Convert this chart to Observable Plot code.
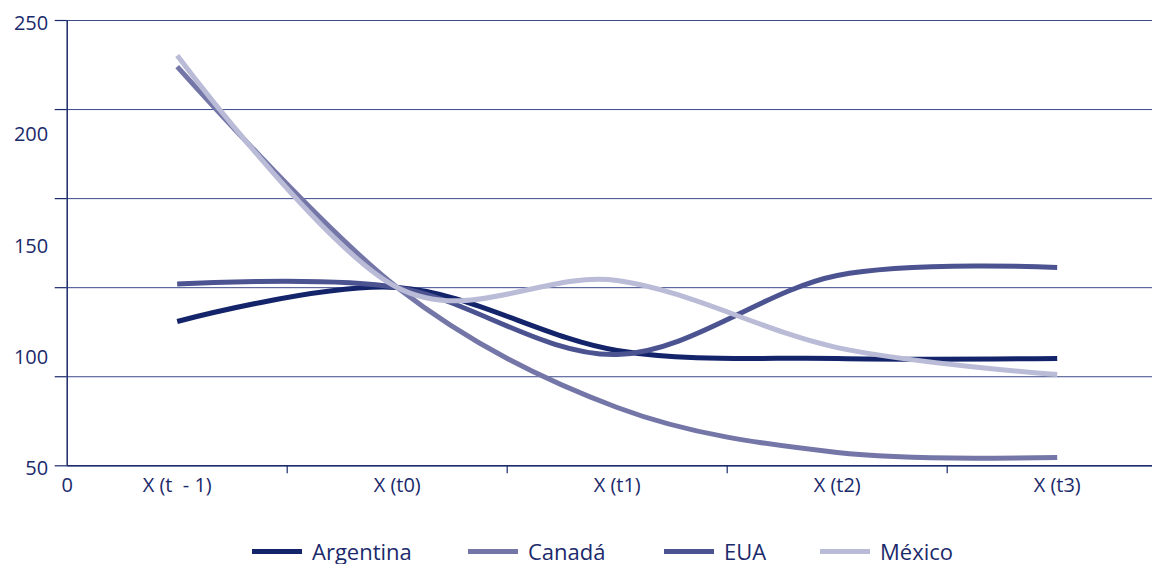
<!DOCTYPE html>
<html>
<head>
<meta charset="utf-8">
<script src="https://cdn.jsdelivr.net/npm/d3@7"></script>
<script src="https://cdn.jsdelivr.net/npm/@observablehq/plot@0.6"></script>
<style>
  html, body { margin: 0; padding: 0; background: #fff; }
  #chart svg { display: block; }
  #legend { position: relative; height: 44px; font-family: "Open Sans", sans-serif; color: #1b2a6b; }
  .item { position: absolute; height: 24px; display: flex; align-items: center; }
  .sw { width: 50px; height: 5px; margin-right: 10px; }
  .lbl { font-size: 22px; line-height: 24px; }
</style>
</head>
<body>
<div id="chart"></div>
<div id="legend"></div>
<script>
// ---- data ----
const categories = ["X (t\u00a0\u00a0- 1)", "X (t0)", "X (t1)", "X (t2)", "X (t3)"];
const originLabel = ["0"];
const seriesNames = ["Argentina", "Canadá", "EUA", "México"];
const argentina = [114.8, 130.1, 101.8, 98.2, 98.2];
const canada    = [229.3, 130.1, 76.2, 56.0, 53.7];
const eua       = [131.6, 130.1, 100.0, 135.5, 139.1];
const mexico    = [234.3, 130.1, 133.2, 103.1, 91.0];
const yLabels   = [50, 100, 150, 200, 250];
const gridTicks = [50, 90, 130, 170, 210, 250];
const colors    = ["#13246b", "#7476a8", "#4c5391", "#b9bbd7"];

const navy = "#1b2a6b";
const seriesValues = [argentina, canada, eua, mexico];
const table = [];
seriesNames.forEach((name, s) => {
  seriesValues[s].forEach((v, i) => table.push({series: name, pos: i + 0.5, value: v}));
});

const width = 1152, height = 520;
const chart = Plot.plot({
  width, height,
  marginTop: 20, marginBottom: 54.7, marginLeft: 66.7, marginRight: 0,
  x: {type: "linear", domain: [0, 5], range: [66.7, 1166.7], axis: null, label: null},
  y: {domain: [50, 250], axis: null, label: null},
  color: {domain: seriesNames, range: colors},
  style: {fontFamily: "Open Sans, sans-serif", color: navy, background: "#fff"},
  marks: [
    Plot.gridY(gridTicks, {stroke: "#3c4a8a", strokeOpacity: 1, strokeWidth: 1}),
    Plot.axisY(gridTicks, {tickSize: 12, tickFormat: () => "", label: null, stroke: navy, strokeWidth: 1.2}),
    Plot.axisY(yLabels, {tickSize: 0, tickPadding: 19, label: null, fontSize: 20, dy: 3, fill: navy}),
    Plot.ruleX([0], {stroke: navy, strokeWidth: 1.5}),
    Plot.ruleY([50], {stroke: navy, strokeWidth: 1.5}),
    Plot.axisX([1, 2, 3, 4], {tickSize: 8, tickFormat: () => "", label: null, stroke: navy, strokeWidth: 1.2}),
    Plot.text(categories, {x: (d, i) => i + 0.5, text: d => d, frameAnchor: "bottom", dy: 26, fontSize: 20, fill: navy}),
    Plot.text(originLabel, {x: () => 0, text: d => d, frameAnchor: "bottom", dy: 26, fontSize: 20, fill: navy}),
    Plot.line(table, {x: "pos", y: "value", z: "series", stroke: "series", curve: "cardinal", strokeWidth: 5, strokeLinecap: "butt"})
  ]
});
document.getElementById("chart").appendChild(chart);

// ---- legend ----
const legendX = [252, 468, 664, 820];
const legend = document.getElementById("legend");
seriesNames.forEach((name, i) => {
  const item = document.createElement("div");
  item.className = "item";
  item.style.left = legendX[i] + "px";
  item.style.top = "19px";
  item.innerHTML = `<span class="sw" style="background:${colors[i]}"></span><span class="lbl">${name}</span>`;
  legend.appendChild(item);
});
</script>
</body>
</html>
